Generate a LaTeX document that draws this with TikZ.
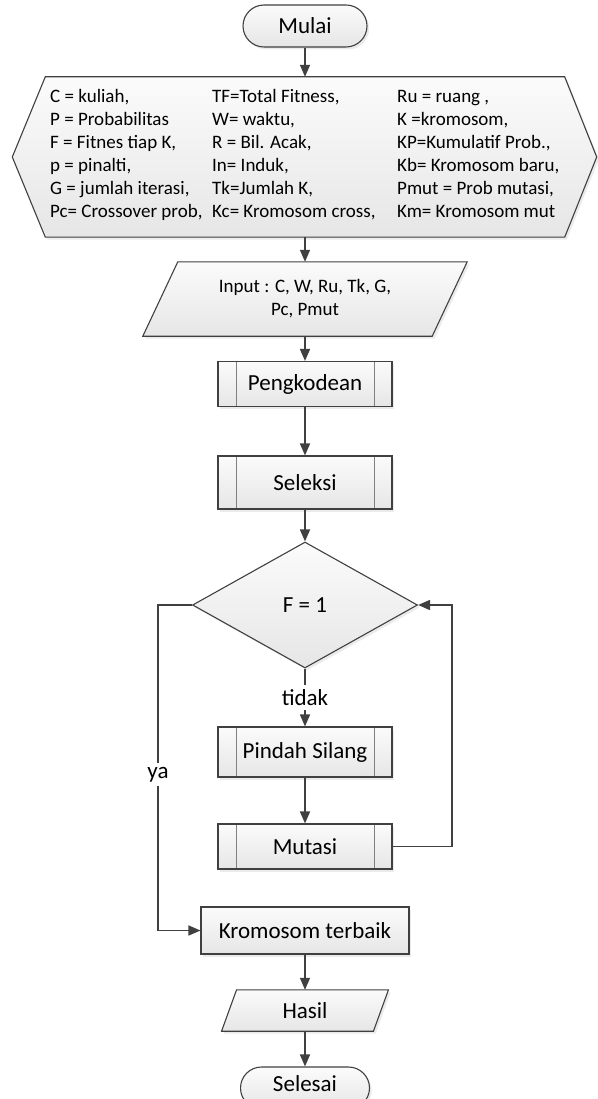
\documentclass[tikz,border=0pt]{standalone}
\usepackage{fontspec}
\setmainfont{Carlito}
\usepackage{array}
\usetikzlibrary{arrows.meta,shadows,shapes.geometric,calc}
\pgfdeclarelayer{bg}
\pgfsetlayers{bg,main}
\definecolor{edge}{RGB}{64,64,64}
\definecolor{innerline}{RGB}{128,128,128}
\definecolor{fillTop}{RGB}{251,251,251}
\definecolor{fillBot}{RGB}{230,230,230}
\begin{document}
\begin{tikzpicture}[x=1pt,y=-1pt,
  shapefill/.style={draw=edge, line width=1.1pt, top color=fillTop, bottom color=fillBot,
    drop shadow={shadow xshift=2.2pt, shadow yshift=-2.5pt, opacity=0.16}},
  bigtext/.style={font=\fontsize{23}{27}\selectfont, text=black},
  smalltext/.style={font=\fontsize{19}{23}\selectfont, text=black},
  terminal/.style={shapefill, bigtext, rounded corners=21pt, minimum width=#1,
    minimum height=42pt, inner sep=0pt},
  plainbox/.style={shapefill, bigtext, minimum width=#1, minimum height=47pt, inner sep=0pt},
  procbox/.style={shapefill, bigtext, minimum width=174pt, minimum height=#1, inner sep=0pt,
    path picture={
      \draw[innerline, line width=1pt]
        ([xshift=18pt]path picture bounding box.north west) -- ([xshift=18pt]path picture bounding box.south west)
        ([xshift=-18pt]path picture bounding box.north east) -- ([xshift=-18pt]path picture bounding box.south east);}},
  flow/.style={draw=edge, line width=1.6pt, -{Triangle[length=12pt,width=10pt]}},
  tag/.style={fill=white, bigtext, inner sep=4pt}
]
\useasboundingbox (0,0) rectangle (597,1099);

% start terminal
\node[terminal=124pt] (start) at (305,26) {Mulai};

% table of symbols inside a hexagon
\node[minimum width=519pt, minimum height=160pt, inner sep=0pt] (hex) at (305,157) {};
\node[smalltext, anchor=north west, inner sep=0pt] (defs) at (50,85.9) {%
  \begin{tabular}{@{}w{l}{162pt}@{}w{l}{185pt}@{}l@{}}
  C = kuliah, & TF=Total Fitness, & Ru = ruang ,\\
  P = Probabilitas & W= waktu, & K =kromosom,\\
  F = Fitnes tiap K, & R = Bil. Acak, & KP=Kumulatif Prob.,\\
  p = pinalti, & In= Induk, & Kb= Kromosom baru,\\
  G = jumlah iterasi, & Tk=Jumlah K, & Pmut = Prob mutasi,\\
  Pc= Crossover prob, & Kc= Kromosom cross, & Km= Kromosom mut
  \end{tabular}};

% input
\node[smalltext, align=center, minimum width=289pt, minimum height=74pt, inner sep=0pt] (inp)
  at (305,299) {Input : C, W, Ru, Tk, G,\\Pc, Pmut};

% processes
\node[procbox=45pt] (enc) at (305,384) {Pengkodean};
\node[procbox=53pt] (sel) at (305,482.5) {Seleksi};
\node[diamond, shapefill, bigtext, minimum width=225pt, minimum height=126pt, inner sep=0pt]
  (dec) at (305,605) {F = 1};
\node[procbox=50pt] (cross) at (305,752) {Pindah Silang};
\node[procbox=45pt] (mut) at (305,846.5) {Mutasi};
\node[plainbox=208pt] (best) at (305,930.5) {Kromosom terbaik};

% output and end (the end terminal runs past the lower edge, its text sits high)
\node[bigtext, minimum width=151.5pt, minimum height=41pt, inner sep=0pt] (out) at (305,1010.5) {Hasil};
\node[terminal=129pt, text height=16pt, text depth=10pt] (stop) at (305,1088) {Selesai};

% hexagon and parallelogram outlines behind their texts
\begin{pgfonlayer}{bg}
  \path[shapefill] (hex.north west) -- (hex.north east) -- ([xshift=32pt]hex.east)
    -- (hex.south east) -- (hex.south west) -- ([xshift=-33pt]hex.west) -- cycle;
  \path[shapefill] ([xshift=17.5pt]inp.north west) -- ([xshift=17.5pt]inp.north east)
    -- ([xshift=-17.5pt]inp.south east) -- ([xshift=-17.5pt]inp.south west) -- cycle;
  \path[shapefill] ([xshift=7.5pt]out.north west) -- ([xshift=7.5pt]out.north east)
    -- ([xshift=-7.5pt]out.south east) -- ([xshift=-7.5pt]out.south west) -- cycle;
\end{pgfonlayer}

% connectors
\coordinate (loopL) at (158,605);
\coordinate (loopR) at (452,605);
\draw[flow] (start) -- (hex.north);
\draw[flow] (hex.south) -- (inp);
\draw[flow] (inp) -- (enc);
\draw[flow] (enc) -- (sel);
\draw[flow] (sel) -- (dec);
\draw[flow] (dec) -- node[tag] (no) {tidak} (cross);
\draw[flow] (cross) -- (mut);
\draw[flow] (mut.east) -| (loopR) -- (dec.east);
\draw[flow] (dec.west) -- (loopL) |- node[tag, pos=0.261] (yes) {ya} (best.west);
\draw[flow] (best) -- (out);
\draw[flow] (out) -- (stop);
\end{tikzpicture}
\end{document}
